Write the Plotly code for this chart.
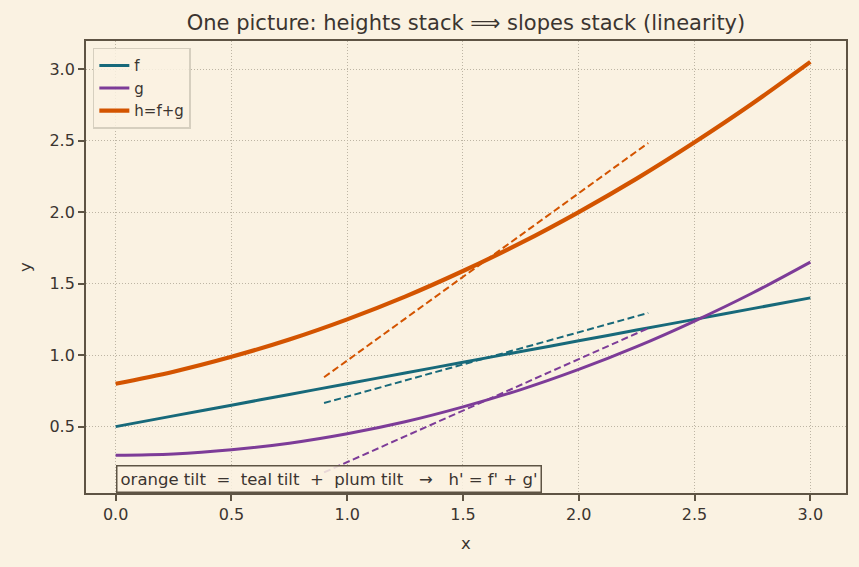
import plotly.graph_objects as go

# Data
x_curve = [0.0, 0.25, 0.5, 0.75, 1.0, 1.25, 1.5, 1.75, 2.0, 2.25, 2.5, 2.75, 3.0]
f_vals = [0.5, 0.575, 0.65, 0.725, 0.8, 0.875, 0.95, 1.025, 1.1, 1.175, 1.25, 1.325, 1.4]
g_vals = [0.3, 0.309, 0.338, 0.384, 0.45, 0.534, 0.638, 0.759, 0.9, 1.059, 1.238, 1.434, 1.65]
h_vals = [0.8, 0.884, 0.988, 1.109, 1.25, 1.409, 1.588, 1.784, 2.0, 2.234, 2.488, 2.759, 3.05]

x_tan = [0.9, 2.3]
f_tan = [0.665, 1.295]
g_tan = [0.18, 1.188]
h_tan = [0.845, 2.483]

TEAL = "#17697a"
PLUM = "#7d3c98"
ORANGE = "#d35400"
BG = "#faf2e2"
INK = "#3b3530"
FRAME = "#5e5444"

fig = go.Figure()
fig.add_trace(go.Scatter(x=x_curve, y=f_vals, mode="lines", name="f",
                         line=dict(color=TEAL, width=3, shape="spline")))
fig.add_trace(go.Scatter(x=x_curve, y=g_vals, mode="lines", name="g",
                         line=dict(color=PLUM, width=3, shape="spline")))
fig.add_trace(go.Scatter(x=x_curve, y=h_vals, mode="lines", name="h=f+g",
                         line=dict(color=ORANGE, width=4.2, shape="spline")))
for yy, c in [(f_tan, TEAL), (g_tan, PLUM), (h_tan, ORANGE)]:
    fig.add_trace(go.Scatter(x=x_tan, y=yy, mode="lines", showlegend=False,
                             line=dict(color=c, width=2, dash="7px,3.5px")))

axis_common = dict(
    showline=True, linecolor=FRAME, linewidth=1.8, mirror=True,
    ticks="outside", ticklen=6, tickcolor=FRAME, tickwidth=1.5,
    showgrid=True, gridcolor="#bdb5a4", griddash="1px,2px", gridwidth=1,
    zeroline=False, tickfont=dict(size=16, color=INK),
)

fig.update_layout(
    width=859, height=567,
    paper_bgcolor=BG, plot_bgcolor=BG,
    font=dict(family="DejaVu Sans", color=INK, size=16),
    margin=dict(l=86, r=13, t=41, b=74),
    title=dict(text="One picture: heights stack \u27f9 slopes stack (linearity)",
               x=0.5, xref="paper", y=1 - 23 / 567, yanchor="middle",
               font=dict(size=21, color=INK)),
    xaxis=dict(range=[-0.128, 3.154], tickvals=[0, 0.5, 1, 1.5, 2, 2.5, 3],
               ticktext=["0.0", "0.5", "1.0", "1.5", "2.0", "2.5", "3.0"],
               title=dict(text="x", font=dict(size=16.5, color=INK), standoff=14),
               **axis_common),
    yaxis=dict(range=[0.036, 3.196], tickvals=[0.5, 1, 1.5, 2, 2.5, 3],
               ticktext=["0.5", "1.0", "1.5", "2.0", "2.5", "3.0"],
               title=dict(text="y", font=dict(size=16.5, color=INK), standoff=14),
               **axis_common),
    legend=dict(x=0.009, y=0.985, xanchor="left", yanchor="top",
                bgcolor="rgba(250,242,226,0.85)", bordercolor="#d6cfbf", borderwidth=1.5,
                font=dict(size=15, color=INK), tracegroupgap=0, itemwidth=30),
    showlegend=True,
)

fig.add_annotation(
    x=0.0, y=0.036, xref="x", yref="y", xanchor="left", yanchor="bottom",
    text="orange tilt\u00a0\u00a0=\u00a0\u00a0teal tilt\u00a0\u00a0+\u00a0\u00a0plum tilt\u00a0\u00a0\u00a0\u2192\u00a0\u00a0\u00a0h' = f' + g'",
    showarrow=False, font=dict(size=16.5, color=INK),
    bgcolor="rgba(250,242,226,0.85)", bordercolor=FRAME, borderwidth=1.5, borderpad=3,
)

fig.write_html("out.html")
